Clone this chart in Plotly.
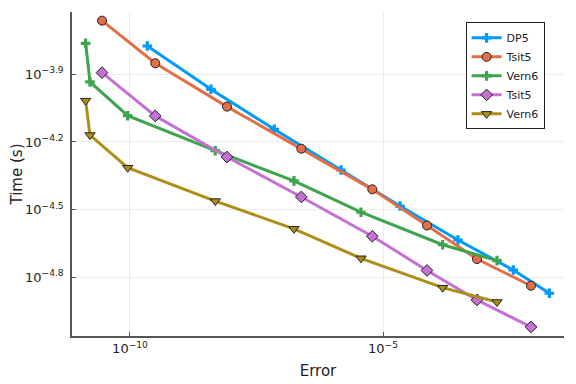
import plotly.graph_objects as go

# Data (Error, Time in seconds)
dp5_err = [2.20e-10, 3.99e-9, 7.11e-8, 1.48e-6, 2.17e-5, 3.03e-4, 3.76e-3, 1.94e-2]
dp5_time = [1.680e-4, 1.080e-4, 7.18e-5, 4.74e-5, 3.28e-5, 2.32e-5, 1.708e-5, 1.347e-5]

tsit5_err = [2.80e-11, 3.16e-10, 8.26e-9, 2.43e-7, 6.15e-6, 7.41e-5, 7.21e-4, 8.41e-3]
tsit5_time = [2.176e-4, 1.409e-4, 9.05e-5, 5.89e-5, 3.89e-5, 2.69e-5, 1.91e-5, 1.455e-5]

vern6_err = [1.33e-11, 1.62e-11, 9.0e-11, 4.85e-9, 1.74e-7, 3.67e-6, 1.51e-4, 1.79e-3]
vern6_time = [1.727e-4, 1.164e-4, 8.25e-5, 5.77e-5, 4.24e-5, 3.08e-5, 2.21e-5, 1.88e-5]

tsit5b_err = [2.80e-11, 3.16e-10, 8.26e-9, 2.43e-7, 6.15e-6, 7.41e-5, 7.21e-4, 8.41e-3]
tsit5b_time = [1.28e-4, 8.23e-5, 5.41e-5, 3.60e-5, 2.41e-5, 1.70e-5, 1.258e-5, 9.55e-6]

vern6b_err = [1.33e-11, 1.62e-11, 9.0e-11, 4.85e-9, 1.74e-7, 3.67e-6, 1.51e-4, 1.79e-3]
vern6b_time = [9.62e-5, 6.77e-5, 4.85e-5, 3.45e-5, 2.60e-5, 1.925e-5, 1.426e-5, 1.232e-5]

x_tickvals = [1e-10, 1e-5]
x_ticktext = ["10<sup>−10</sup>", "10<sup>−5</sup>"]
y_tickexps = [-4.8, -4.5, -4.2, -3.9]
y_tickvals = [10 ** e for e in y_tickexps]
y_ticktext = ["10<sup>−4.8</sup>", "10<sup>−4.5</sup>", "10<sup>−4.2</sup>", "10<sup>−3.9</sup>"]

series = [
    ("DP5", dp5_err, dp5_time, "#009AFA", "cross", False),
    ("Tsit5", tsit5_err, tsit5_time, "#E36F47", "circle", True),
    ("Vern6", vern6_err, vern6_time, "#3EA44E", "cross", False),
    ("Tsit5", tsit5b_err, tsit5b_time, "#C371D2", "diamond", True),
    ("Vern6", vern6b_err, vern6b_time, "#AC8E18", "triangle-down", True),
]

fig = go.Figure()
for name, xs, ys, col, sym, outline in series:
    fig.add_trace(go.Scatter(
        x=xs, y=ys, name=name, mode="lines+markers",
        line=dict(color=col, width=3),
        marker=dict(symbol=sym, size=8 if sym == "cross" else 9, color=col,
                    line=dict(color="#222222" if outline else col, width=1 if outline else 0)),
    ))

axis_common = dict(
    type="log", showline=True, linecolor="#555555", linewidth=1.5,
    ticks="inside", ticklen=4, tickcolor="#555555",
    showgrid=True, gridcolor="#EBEBEB", gridwidth=1, zeroline=False,
    tickfont=dict(family="DejaVu Sans", size=13, color="#222222"),
    mirror=False, automargin=False,
)

fig.update_layout(
    width=576, height=384,
    margin=dict(l=64, r=20, t=4, b=56),
    paper_bgcolor="white", plot_bgcolor="white",
    font=dict(family="DejaVu Sans", color="#222222"),
    xaxis=dict(axis_common, range=[-11.146, -1.423], tickvals=x_tickvals, ticktext=x_ticktext,
               title=dict(text="Error", font=dict(size=15), standoff=10)),
    yaxis=dict(axis_common, range=[-5.060, -3.624], tickvals=y_tickvals, ticktext=y_ticktext,
               ticklabelstandoff=4,
               title=dict(text="Time (s)", font=dict(size=15), standoff=8)),
    legend=dict(x=0.80, y=0.968, xanchor="left", yanchor="top",
                bordercolor="#222222", borderwidth=1, bgcolor="white",
                font=dict(size=11), tracegroupgap=0),
    showlegend=True,
)

fig.write_html("out.html")
